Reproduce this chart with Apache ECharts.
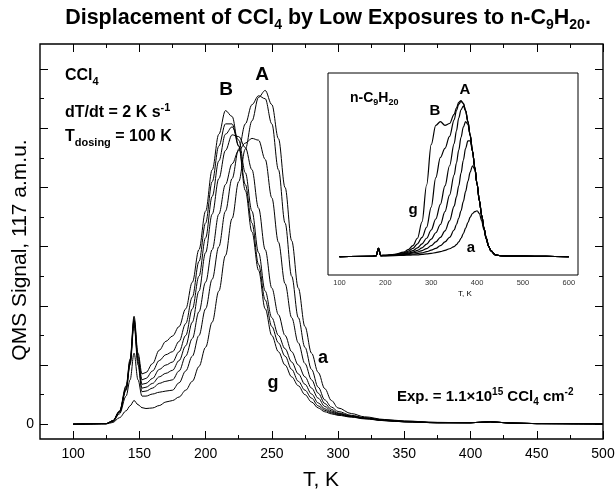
<!DOCTYPE html>
<html>
<head>
<meta charset="utf-8">
<script src="https://cdn.jsdelivr.net/npm/echarts@6/dist/echarts.min.js"></script>
<style>
html, body { margin: 0; padding: 0; background: #fff; }
#chart { width: 616px; height: 493px; }
</style>
</head>
<body>
<div id="chart"></div>
<script>
var FONT = '"Liberation Sans", Arial, sans-serif';

// main plot: CCl4 (117 amu) desorption, curves a..g
var tMain = [100, 125, 130, 135, 140, 143, 146, 149, 152, 155, 160, 165, 170, 175, 180, 185, 190, 195, 200, 205,
    210, 215, 220, 225, 230, 235, 240, 245, 250, 255, 260, 265, 270, 275, 280, 285, 290, 295, 300, 310,
    320, 335, 350, 375, 400, 415, 430, 450, 500];
var ccl4_a = [0, 0.01, 0.06, 0.22, 0.45, 0.62, 0.8, 0.66, 0.56, 0.53, 0.55, 0.63, 0.75, 0.8, 0.92, 1.15, 1.45, 1.95, 2.6, 3.45,
    4.5, 5.7, 6.95, 8.2, 9.3, 10.25, 11.05, 11.28, 10.8, 9.65, 8.0, 6.2, 4.6, 3.3, 2.4, 1.75, 1.2, 0.8, 0.55, 0.36,
    0.25, 0.16, 0.11, 0.06, 0.05, 0.08, 0.04, 0.02, 0.01];
var ccl4_b = [0, 0.02, 0.09, 0.35, 0.95, 1.5, 2.4, 1.5, 0.95, 0.95, 1.02, 1.08, 1.12, 1.15, 1.4, 1.8, 2.3, 3.0, 3.9, 4.9,
    6.0, 7.2, 8.3, 9.3, 10.15, 10.8, 11.1, 11.0, 10.15, 8.6, 6.8, 5.0, 3.6, 2.6, 1.85, 1.25, 0.82, 0.58, 0.43, 0.3,
    0.22, 0.15, 0.1, 0.06, 0.05, 0.08, 0.04, 0.02, 0.01];
var ccl4_c = [0, 0.02, 0.1, 0.4, 1.15, 2.0, 3.35, 2.0, 1.1, 1.12, 1.22, 1.38, 1.45, 1.5, 1.8, 2.3, 2.9, 3.8, 4.8, 5.9,
    7.1, 8.1, 8.8, 9.25, 9.5, 9.66, 9.6, 8.95, 7.65, 6.15, 4.75, 3.6, 2.75, 2.05, 1.5, 1.05, 0.7, 0.5, 0.38, 0.28,
    0.21, 0.14, 0.09, 0.05, 0.05, 0.08, 0.04, 0.02, 0.01];
var ccl4_d = [0, 0.02, 0.11, 0.41, 1.2, 2.05, 3.45, 2.1, 1.22, 1.25, 1.38, 1.6, 1.72, 1.82, 2.15, 2.65, 3.45, 4.5, 5.8, 7.1,
    8.3, 9.25, 9.78, 9.72, 9.35, 8.6, 7.3, 5.9, 4.6, 3.7, 3.0, 2.45, 2.0, 1.6, 1.22, 0.88, 0.6, 0.45, 0.36, 0.27,
    0.2, 0.13, 0.09, 0.05, 0.05, 0.08, 0.04, 0.02, 0.01];
var ccl4_e = [0, 0.02, 0.11, 0.42, 1.2, 2.1, 3.5, 2.2, 1.35, 1.38, 1.55, 1.85, 2.0, 2.1, 2.45, 3.0, 3.9, 5.0, 6.3, 7.7,
    8.9, 9.8, 10.05, 9.6, 8.5, 7.2, 5.8, 4.5, 3.6, 3.0, 2.55, 2.1, 1.7, 1.35, 1.02, 0.72, 0.52, 0.41, 0.34, 0.26,
    0.2, 0.13, 0.08, 0.05, 0.05, 0.08, 0.04, 0.02, 0.01];
var ccl4_f = [0, 0.02, 0.12, 0.43, 1.25, 2.15, 3.55, 2.3, 1.5, 1.55, 1.8, 2.15, 2.35, 2.45, 2.8, 3.4, 4.3, 5.5, 6.8, 8.2,
    9.4, 10.15, 10.15, 9.4, 8.1, 6.8, 5.4, 4.2, 3.3, 2.75, 2.3, 1.85, 1.45, 1.15, 0.88, 0.62, 0.47, 0.38, 0.32, 0.25,
    0.19, 0.12, 0.08, 0.05, 0.05, 0.08, 0.04, 0.02, 0.01];
var ccl4_g = [0, 0.02, 0.12, 0.45, 1.3, 2.2, 3.65, 2.4, 1.7, 1.75, 2.05, 2.5, 2.8, 2.98, 3.3, 3.9, 4.8, 5.9, 7.2, 8.6,
    9.8, 10.6, 10.4, 9.4, 7.9, 6.5, 5.2, 3.9, 3.0, 2.45, 2.0, 1.6, 1.3, 1.0, 0.75, 0.55, 0.42, 0.35, 0.3, 0.24,
    0.18, 0.12, 0.08, 0.05, 0.05, 0.08, 0.04, 0.02, 0.01];

// inset: n-C9H20 desorption, curves a..g
var tInset = [100, 170, 180, 185, 190, 200, 220, 240, 250, 260, 270, 280, 290, 300, 310, 320, 330, 340, 350, 355,
    360, 365, 370, 375, 380, 385, 390, 395, 400, 405, 410, 415, 420, 425, 430, 440, 450, 470, 500, 550, 600];
var non_a = [0, 0.02, 0.05, 0.45, 0.05, 0.05, 0.06, 0.07, 0.08, 0.09, 0.1, 0.12, 0.15, 0.18, 0.22, 0.27, 0.34, 0.43, 0.55, 0.65,
    0.8, 1.0, 1.25, 1.55, 1.85, 2.15, 2.35, 2.45, 2.5, 2.35, 1.95, 1.45, 0.95, 0.56, 0.31, 0.1, 0.05, 0.03, 0.03, 0.01, 0];
var non_b = [0, 0.02, 0.05, 0.45, 0.05, 0.05, 0.07, 0.1, 0.12, 0.14, 0.17, 0.21, 0.27, 0.35, 0.45, 0.6, 0.8, 1.05, 1.45, 1.75,
    2.1, 2.5, 3.0, 3.55, 4.1, 4.6, 4.95, 4.75, 3.95, 3.05, 2.25, 1.55, 1.0, 0.58, 0.32, 0.1, 0.05, 0.03, 0.03, 0.01, 0];
var non_c = [0, 0.02, 0.05, 0.45, 0.06, 0.06, 0.08, 0.12, 0.15, 0.2, 0.25, 0.33, 0.44, 0.6, 0.8, 1.05, 1.4, 1.95, 2.75, 3.25,
    3.85, 4.55, 5.25, 5.9, 6.3, 6.3, 5.75, 4.85, 3.95, 3.05, 2.25, 1.55, 1.0, 0.58, 0.32, 0.1, 0.05, 0.03, 0.03, 0.01, 0];
var non_d = [0, 0.02, 0.05, 0.45, 0.06, 0.06, 0.09, 0.14, 0.19, 0.25, 0.34, 0.48, 0.68, 0.95, 1.3, 1.75, 2.45, 3.35, 4.45, 5.1,
    5.8, 6.5, 7.05, 7.35, 7.2, 6.6, 5.75, 4.85, 3.95, 3.05, 2.25, 1.55, 1.0, 0.58, 0.32, 0.1, 0.05, 0.03, 0.03, 0.01, 0];
var non_e = [0, 0.02, 0.05, 0.45, 0.06, 0.07, 0.1, 0.17, 0.24, 0.33, 0.48, 0.7, 1.0, 1.45, 2.05, 2.85, 3.85, 4.95, 6.15, 6.85,
    7.55, 8.0, 8.2, 7.95, 7.35, 6.6, 5.75, 4.85, 3.95, 3.05, 2.25, 1.55, 1.0, 0.58, 0.32, 0.1, 0.05, 0.03, 0.03, 0.01, 0];
var non_f = [0, 0.02, 0.05, 0.45, 0.06, 0.07, 0.11, 0.2, 0.3, 0.45, 0.7, 1.05, 1.6, 2.7, 4.3, 5.4, 5.9, 6.55, 7.45, 7.95,
    8.3, 8.45, 8.35, 7.95, 7.35, 6.6, 5.75, 4.85, 3.95, 3.05, 2.25, 1.55, 1.0, 0.58, 0.32, 0.1, 0.05, 0.03, 0.03, 0.01, 0];
var non_g = [0, 0.02, 0.05, 0.45, 0.06, 0.07, 0.12, 0.25, 0.38, 0.6, 1.0, 1.9, 3.9, 6.1, 7.15, 7.35, 7.15, 7.25, 7.75, 8.1,
    8.4, 8.5, 8.35, 7.95, 7.35, 6.6, 5.75, 4.85, 3.95, 3.05, 2.25, 1.55, 1.0, 0.58, 0.32, 0.1, 0.05, 0.03, 0.03, 0.01, 0];

// ticks
var mainXRange = [75, 500];
var mainYRange = [-0.5, 12.85];
var mainXMajor = [100, 150, 200, 250, 300, 350, 400, 450, 500];
var mainXMinor = [125, 175, 225, 275, 325, 375, 425, 475];
var mainYMajor = [0, 2, 4, 6, 8, 10, 12];
var mainYMinor = [1, 3, 5, 7, 9, 11];
var mainYLabels = [0];
var insetXRange = [75, 620];
var insetYRange = [-1, 10];
var insetXMajor = [100, 200, 300, 400, 500, 600];
var insetXMinor = [150, 250, 350, 450, 550];
var insetYMajor = [0, 2, 4, 6, 8, 10];
var insetYMinor = [1, 3, 5, 7, 9];

function pairs(ts, vs) {
    return ts.map(function (t, i) { return [t, vs[i]]; });
}

function tickAxis(grid, pos, range, ticks, len, labels, fontSize, margin, color) {
    return {
        type: 'value', gridIndex: grid, position: pos, min: range[0], max: range[1],
        axisLine: { show: false, onZero: false },
        splitLine: { show: false },
        axisTick: { show: true, inside: true, length: len, customValues: ticks, lineStyle: { color: '#000', width: 1 } },
        axisLabel: labels ? { show: true, customValues: labels, fontSize: fontSize, fontFamily: FONT, color: color || '#000', margin: margin } : { show: false }
    };
}

function rich(size, weight) {
    var w = weight || 'bold';
    var s = Math.round(size * 0.66);
    var p = Math.round(size * 0.66);
    return {
        n: { fontSize: size, fontWeight: w, fontFamily: FONT, fill: '#000' },
        s: { fontSize: s, fontWeight: w, fontFamily: FONT, fill: '#000', padding: [p, 0, 0, 0] },
        p: { fontSize: s, fontWeight: w, fontFamily: FONT, fill: '#000', padding: [0, 0, p, 0] }
    };
}

function txt(x, y, text, size, align, weight, rot) {
    return {
        type: 'text', x: x, y: y, z: 100, rotation: rot || 0,
        style: { text: text, rich: rich(size, weight), align: align || 'left', verticalAlign: 'middle',
                 font: (weight || 'bold') + ' ' + size + 'px ' + FONT, fill: '#000' }
    };
}

var myChart = echarts.init(document.getElementById('chart'), null, { renderer: 'canvas' });

var mainSeries = [ccl4_a, ccl4_b, ccl4_c, ccl4_d, ccl4_e, ccl4_f, ccl4_g];
var insetSeries = [non_a, non_b, non_c, non_d, non_e, non_f, non_g];
var names = ['a', 'b', 'c', 'd', 'e', 'f', 'g'];

var series = [];
mainSeries.forEach(function (vs, i) {
    series.push({
        name: 'CCl4 ' + names[i], type: 'line', xAxisIndex: 0, yAxisIndex: 0,
        data: pairs(tMain, vs), showSymbol: false, smooth: 0.35, smoothMonotone: 'x',
        lineStyle: { color: '#000', width: 1 }, silent: true
    });
});
insetSeries.forEach(function (vs, i) {
    series.push({
        name: 'C9H20 ' + names[i], type: 'line', xAxisIndex: 4, yAxisIndex: 4,
        data: pairs(tInset, vs), showSymbol: false, smooth: 0.35, smoothMonotone: 'x',
        lineStyle: { color: '#000', width: 1.2 }, silent: true
    });
});

var option = {
    backgroundColor: '#fff',
    animation: false,
    grid: [
        { left: 40, top: 44, width: 563, height: 395, show: true, borderColor: '#000', borderWidth: 1.4, backgroundColor: 'transparent', outerBoundsMode: 'none' },
        { left: 328, top: 73, width: 250, height: 202, show: true, borderColor: '#000', borderWidth: 1, backgroundColor: '#fff', outerBoundsMode: 'none', z: 3 }
    ],
    xAxis: [
        tickAxis(0, 'bottom', mainXRange, mainXMajor, 8, mainXMajor, 14, 8),
        tickAxis(0, 'bottom', mainXRange, mainXMinor, 4),
        tickAxis(0, 'top', mainXRange, mainXMajor, 8),
        tickAxis(0, 'top', mainXRange, mainXMinor, 4),
        tickAxis(1, 'bottom', insetXRange, insetXMajor, 5, insetXMajor, 7.5, 4, '#333'),
        tickAxis(1, 'bottom', insetXRange, insetXMinor, 3),
        tickAxis(1, 'top', insetXRange, insetXMajor, 5),
        tickAxis(1, 'top', insetXRange, insetXMinor, 3)
    ],
    yAxis: [
        tickAxis(0, 'left', mainYRange, mainYMajor, 8, mainYLabels, 14, 6),
        tickAxis(0, 'left', mainYRange, mainYMinor, 4),
        tickAxis(0, 'right', mainYRange, mainYMajor, 8),
        tickAxis(0, 'right', mainYRange, mainYMinor, 4),
        tickAxis(1, 'left', insetYRange, insetYMajor, 5),
        tickAxis(1, 'left', insetYRange, insetYMinor, 3),
        tickAxis(1, 'right', insetYRange, insetYMajor, 5),
        tickAxis(1, 'right', insetYRange, insetYMinor, 3)
    ],
    series: series,
    graphic: [
        txt(328, 18, '{n|Displacement of CCl}{s|4}{n| by Low Exposures to n-C}{s|9}{n|H}{s|20}{n|.}', 21.5, 'center'),
        txt(20, 250, '{n|QMS Signal, 117 a.m.u.}', 21, 'center', 'normal', Math.PI / 2),
        txt(321, 480, '{n|T, K}', 21, 'center', 'normal'),
        txt(65, 76, '{n|CCl}{s|4}', 16),
        txt(65, 113, '{n|dT/dt = 2 K s}{p|-1}', 16),
        txt(65, 137, '{n|T}{s|dosing}{n| = 100 K}', 16),
        txt(262, 75, '{n|A}', 19, 'center'),
        txt(226, 90, '{n|B}', 19, 'center'),
        txt(323, 358, '{n|a}', 18, 'center'),
        txt(273, 383, '{n|g}', 18, 'center'),
        txt(397, 397, '{n|Exp. = 1.1\u00d710}{p|15}{n| CCl}{s|4}{n| cm}{p|-2}', 15),
        txt(350, 98, '{n|n-C}{s|9}{n|H}{s|20}', 14),
        txt(465, 90, '{n|A}', 15, 'center'),
        txt(435, 111, '{n|B}', 15, 'center'),
        txt(413, 210, '{n|g}', 15, 'center'),
        txt(471, 248, '{n|a}', 15, 'center'),
        txt(465, 294, '{n|T, K}', 8, 'center', 'normal')
    ]
};

myChart.setOption(option);
</script>
</body>
</html>
